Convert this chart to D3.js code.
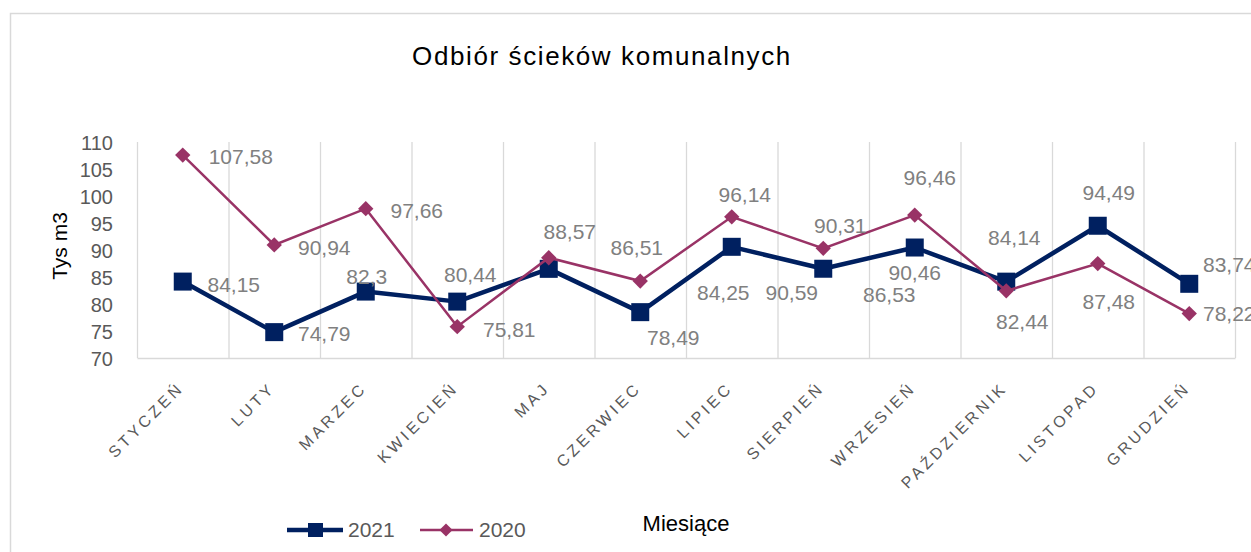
<!DOCTYPE html>
<html><head><meta charset="utf-8">
<script src="https://cdn.jsdelivr.net/npm/d3@7"></script>
<style>
html,body{margin:0;padding:0;background:#fff;}
text{font-family:"Liberation Sans",Arial,sans-serif;}
</style></head>
<body>
<svg id="c" width="1251" height="552"></svg>
<script>
const months = ["STYCZEŃ","LUTY","MARZEC","KWIECIEŃ","MAJ","CZERWIEC","LIPIEC","SIERPIEŃ","WRZESIEŃ","PAŹDZIERNIK","LISTOPAD","GRUDZIEŃ"];
const values2021 = [84.15,74.79,82.3,80.44,86.51,78.49,90.59,86.53,90.46,84.14,94.49,83.74];
const values2020 = [107.58,90.94,97.66,75.81,88.57,84.25,96.14,90.31,96.46,82.44,87.48,78.22];
const yTicks = [70,75,80,85,90,95,100,105,110];
const seriesNames = ["2021","2020"];
const titleText = "Odbiór ścieków komunalnych";
const yTitle = "Tys m3";
const xTitle = "Miesiące";

// label placement (offset of label centre from its point), as in the source chart
const labelOff2021 = [[51,3],[50,2],[1,-15],[13,-27],[88,-21],[33,25],[60,46],[66,26],[0,25],[8,-44],[11,-33],[40,-19]];
const labelOff2020 = [[58,2],[50,3],[51,2],[52,3],[21,-26],[83,12],[13,-22],[17,-23],[15,-37],[16,31],[11,38],[40,0]];

const svg = d3.select("#c");
const L = 137, R = 1235, T = 142, B = 358;
const navy = "#002060", purple = "#993366", grid = "#d9d9d9", txt = "#595959", lab = "#808080";

// chart frame
svg.append("rect").attr("x",10.5).attr("y",13.5).attr("width",1260).attr("height",560)
  .attr("fill","#fff").attr("stroke","#d9d9d9").attr("stroke-width",1.5);

const x = d3.scaleBand().domain(months).range([L,R]).padding(0);
const y = d3.scaleLinear().domain([70,110]).range([B,T]);

// vertical gridlines at category boundaries
const bounds = months.map(m=>x(m)).concat([R]);
svg.append("g").selectAll("line").data(bounds).join("line")
  .attr("x1",d=>d+0.5).attr("x2",d=>d+0.5).attr("y1",T).attr("y2",B)
  .attr("stroke",grid).attr("stroke-width",1.3);

// y axis
const yAxis = d3.axisLeft(y).tickValues(yTicks).tickSize(0).tickPadding(0);
const gy = svg.append("g").attr("transform",`translate(${113},0)`).call(yAxis);
gy.select(".domain").remove();
gy.selectAll("text").attr("fill",txt).style("font-size","20px").attr("dy","0.35em");

// x axis
const xAxis = d3.axisBottom(x).tickSize(0).tickFormat(()=>"");
const gx = svg.append("g").attr("transform",`translate(0,${B})`).call(xAxis);
gx.select(".domain").attr("stroke",grid).attr("stroke-width",1.5);
svg.append("g").selectAll("text").data(months).join("text")
  .attr("transform",d=>`translate(${x(d)+x.bandwidth()/2+2},${B+31}) rotate(-45)`)
  .attr("text-anchor","end").attr("fill",txt).style("font-size","16px").style("letter-spacing","3.4px")
  .text(d=>d);

const cx = m => x(m)+x.bandwidth()/2;
const line = d3.line().x((d,i)=>cx(months[i])).y(d=>y(d));

// 2021
svg.append("path").datum(values2021).attr("d",line).attr("fill","none").attr("stroke",navy).attr("stroke-width",4.5).attr("stroke-linejoin","round");
svg.append("g").selectAll("rect").data(values2021).join("rect")
  .attr("x",(d,i)=>cx(months[i])-9).attr("y",d=>y(d)-9).attr("width",18).attr("height",18).attr("fill",navy);

// 2020
svg.append("path").datum(values2020).attr("d",line).attr("fill","none").attr("stroke",purple).attr("stroke-width",2.5);
const diamond = d3.symbol().type(d3.symbolDiamond2).size(150);
svg.append("g").selectAll("path").data(values2020).join("path")
  .attr("d",diamond).attr("transform",(d,i)=>`translate(${cx(months[i])},${y(d)})`).attr("fill",purple);

// data labels
const fmt = v => String(v).replace(".",",");
function labels(vals, offs){
  svg.append("g").selectAll("text").data(vals).join("text")
    .attr("x",(d,i)=>cx(months[i])+offs[i][0]).attr("y",(d,i)=>y(d)+offs[i][1])
    .attr("text-anchor","middle").attr("dy","0.35em").attr("fill",lab).style("font-size","21px")
    .text(fmt);
}
labels(values2021, labelOff2021);
labels(values2020, labelOff2020);

// titles
svg.append("text").attr("x",602).attr("y",56).attr("dy","0.35em").attr("text-anchor","middle")
  .attr("fill","#000").style("font-size","26px").style("letter-spacing","1.6px").text(titleText);
svg.append("text").attr("transform","translate(60,246) rotate(-90)").attr("text-anchor","middle").attr("dy","0.35em")
  .attr("fill","#000").style("font-size","21px").text(yTitle);
svg.append("text").attr("x",686).attr("y",523).attr("dy","0.35em").attr("text-anchor","middle")
  .attr("fill","#000").style("font-size","22px").text(xTitle);

// legend
const lg = svg.append("g");
const ly = 530;
lg.append("line").attr("x1",287).attr("x2",343).attr("y1",ly).attr("y2",ly).attr("stroke",navy).attr("stroke-width",4.5);
lg.append("rect").attr("x",308).attr("y",ly-7).attr("width",15).attr("height",14).attr("fill",navy);
lg.append("text").attr("x",348).attr("y",ly).attr("dy","0.35em").attr("fill",txt).style("font-size","21px").text(seriesNames[0]);
lg.append("line").attr("x1",420).attr("x2",473).attr("y1",ly).attr("y2",ly).attr("stroke",purple).attr("stroke-width",2.5);
lg.append("path").attr("d",d3.symbol().type(d3.symbolDiamond2).size(110)).attr("transform",`translate(446,${ly})`).attr("fill",purple);
lg.append("text").attr("x",479).attr("y",ly).attr("dy","0.35em").attr("fill",txt).style("font-size","21px").text(seriesNames[1]);
</script>
</body></html>
